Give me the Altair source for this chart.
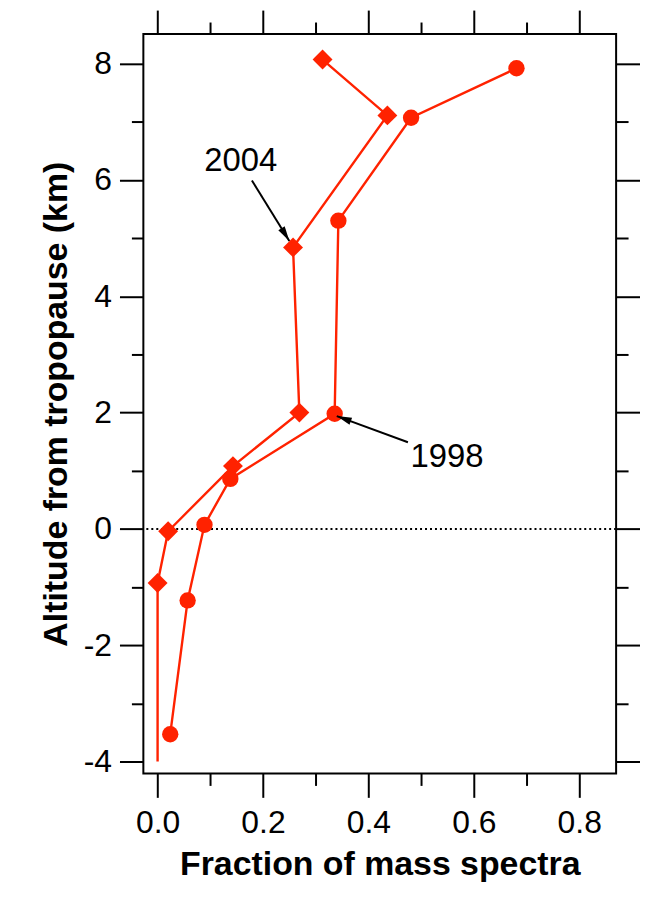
import math
import altair as alt
import pandas as pd

# ---- data ----
x_1998 = [0.681, 0.481, 0.343, 0.336, 0.138, 0.089, 0.057, 0.024]
y_1998 = [7.92, 7.07, 5.30, 1.98, 0.86, 0.07, -1.23, -3.53]

x_2004 = [0.313, 0.436, 0.257, 0.269, 0.143, 0.020, 0.000, 0.000]
y_2004 = [8.07, 7.11, 4.84, 2.00, 1.08, -0.04, -0.93, -4.00]
marker_2004 = [True, True, True, True, True, True, True, False]

x_ticks = [0.0, 0.1, 0.2, 0.3, 0.4, 0.5, 0.6, 0.7, 0.8]
y_ticks = [-4, -3, -2, -1, 0, 1, 2, 3, 4, 5, 6, 7, 8]

label_text = ["2004", "1998"]
label_x = [0.158, 0.549]
label_y = [6.32, 1.24]
arrow_x = [0.179, 0.475]
arrow_y = [5.99, 1.49]
arrow_tip_x = [0.250, 0.340]
arrow_tip_y = [4.95, 1.94]

x_domain = [-0.027, 0.870]
y_domain = [-4.205, 8.51]
W, H = 475, 743
RED = "#ff2200"
FONT = "Liberation Sans"

# ---- tables ----
d1998 = pd.DataFrame({"x": x_1998, "y": y_1998, "o": range(len(x_1998))})
d2004 = pd.DataFrame({"x": x_2004, "y": y_2004, "o": range(len(x_2004)), "m": marker_2004})
d2004_pts = d2004[d2004["m"]]

# arrowhead rotation from the on-screen direction of each arrow
px = W / (x_domain[1] - x_domain[0])
py = H / (y_domain[1] - y_domain[0])
angles = []
for a, b, c, d in zip(arrow_x, arrow_y, arrow_tip_x, arrow_tip_y):
    dx = (c - a) * px
    dy = -(d - b) * py
    ang = math.degrees(math.atan2(dx, -dy)) % 360
    angles.append(ang)
arrows = pd.DataFrame({"x": arrow_x, "y": arrow_y, "x2": arrow_tip_x, "y2": arrow_tip_y, "angle": angles})
labels = pd.DataFrame({"x": label_x, "y": label_y, "t": label_text})
zero = pd.DataFrame({"y": [0.0]})

xs = alt.Scale(domain=x_domain, nice=False, zero=False)
ys = alt.Scale(domain=y_domain, nice=False, zero=False)

x_major = "round(datum.value*10) % 2 == 0"
y_major = "datum.value % 2 == 0"

common = dict(domain=False, grid=False, tickColor="black", tickWidth=2,
              labelFont=FONT, labelFontSize=32, labelColor="black",
              titleFont=FONT, titleFontSize=34, titleFontWeight="bold", titleColor="black",
              labelOverlap=False, labelFlush=False)

x_bottom = alt.Axis(orient="bottom", values=x_ticks,
                    tickSize={"condition": {"test": x_major, "value": 24}, "value": 12},
                    labelExpr=f"{x_major} ? format(datum.value, '.1f') : ''",
                    labelPadding=10, title="Fraction of mass spectra", titlePadding=10, **common)
x_top = alt.Axis(orient="top", values=x_ticks,
                 tickSize={"condition": {"test": x_major, "value": 24}, "value": 12},
                 labels=False, title=None, **common)
y_left = alt.Axis(orient="left", values=y_ticks,
                  tickSize={"condition": {"test": y_major, "value": 24}, "value": 12},
                  labelExpr=f"{y_major} ? '' + datum.value : ''",
                  labelPadding=8, title="Altitude from tropopause (km)", titlePadding=10, **common)
y_right = alt.Axis(orient="right", values=y_ticks,
                   tickSize={"condition": {"test": y_major, "value": 24}, "value": 12},
                   labels=False, title=None, **common)

zero_line = alt.Chart(zero).mark_rule(color="black", strokeWidth=2, strokeDash=[2, 3]).encode(
    y=alt.Y("y:Q", scale=ys, axis=None))

line_1998 = alt.Chart(d1998).mark_line(color=RED, strokeWidth=2.4).encode(
    x=alt.X("x:Q", scale=xs, axis=x_bottom),
    y=alt.Y("y:Q", scale=ys, axis=y_left),
    order="o:Q")
pts_1998 = alt.Chart(d1998).mark_point(shape="circle", filled=True, size=270, color=RED, opacity=1).encode(
    x=alt.X("x:Q", scale=xs, axis=None), y=alt.Y("y:Q", scale=ys, axis=None))

line_2004 = alt.Chart(d2004).mark_line(color=RED, strokeWidth=2.4).encode(
    x=alt.X("x:Q", scale=xs, axis=x_top),
    y=alt.Y("y:Q", scale=ys, axis=y_right),
    order="o:Q")
pts_2004 = alt.Chart(d2004_pts).mark_point(shape="diamond", filled=True, size=400, color=RED, opacity=1).encode(
    x=alt.X("x:Q", scale=xs, axis=None), y=alt.Y("y:Q", scale=ys, axis=None))

arrow_lines = alt.Chart(arrows).mark_rule(color="black", strokeWidth=2).encode(
    x=alt.X("x:Q", scale=xs, axis=None), y=alt.Y("y:Q", scale=ys, axis=None),
    x2="x2:Q", y2="y2:Q")
arrow_heads = alt.Chart(arrows).mark_point(shape="M0,0L-0.5,2L0.5,2Z", filled=True, size=225,
                                           color="black", opacity=1).encode(
    x=alt.X("x2:Q", scale=xs, axis=None), y=alt.Y("y2:Q", scale=ys, axis=None),
    angle=alt.Angle("angle:Q", scale=None))

texts = alt.Chart(labels).mark_text(font=FONT, fontSize=33, color="black", align="center",
                                    baseline="middle").encode(
    x=alt.X("x:Q", scale=xs, axis=None), y=alt.Y("y:Q", scale=ys, axis=None), text="t:N")

chart = alt.layer(zero_line, line_1998, line_2004, pts_1998, pts_2004, arrow_lines, arrow_heads, texts).resolve_axis(
    x="independent", y="independent"
).properties(
    width=W, height=H,
    autosize=alt.AutoSizeParams(type="none"),
    padding={"left": 136, "top": 24, "right": 24, "bottom": 114},
    background="white",
).configure_view(stroke="black", strokeWidth=2)

chart.save("out.html", embed_options={"renderer": "svg", "actions": False})
